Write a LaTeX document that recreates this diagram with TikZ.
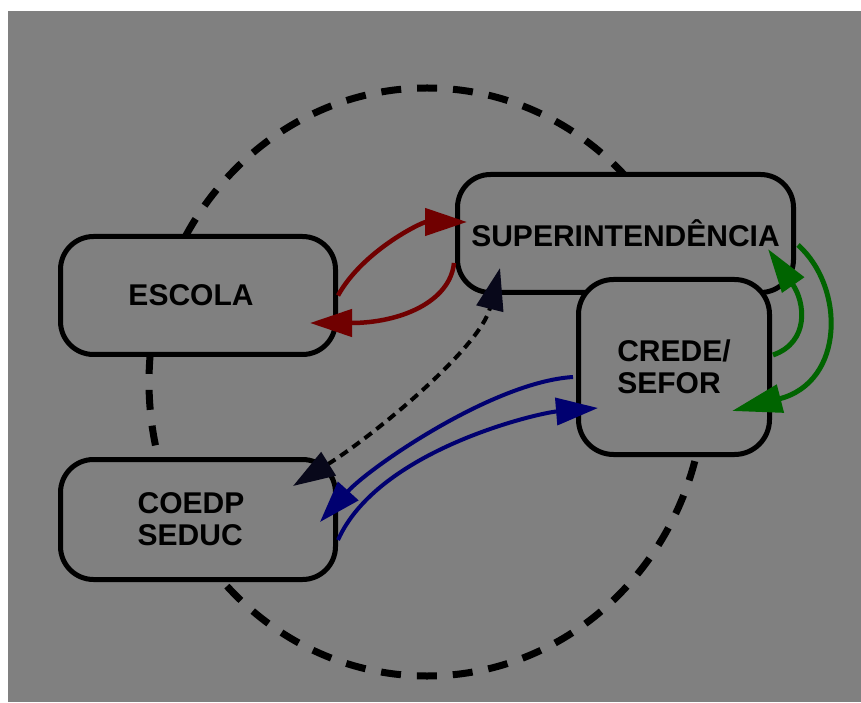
\documentclass[tikz,border=0pt]{standalone}
\usepackage{fontspec}
\setmainfont{Liberation Sans}
\usetikzlibrary{arrows.meta,calc}
\definecolor{bg}{RGB}{128,128,128}
\definecolor{dred}{RGB}{112,0,0}
\definecolor{dblue}{RGB}{0,0,112}
\definecolor{dgreen}{RGB}{0,100,0}
\definecolor{dnavy}{RGB}{8,8,26}
\begin{document}
\begin{tikzpicture}[x=1pt,y=1pt,
  box/.style={draw=black, line width=5pt, fill=bg, rounded corners=33pt,
    font=\fontsize{30}{32}\selectfont\bfseries, align=left, inner sep=0pt},
  tipA/.style={-{Triangle[length=42pt,width=27pt]}},
  redarrow/.style={tipA, draw=dred, line width=4.5pt},
  bluearrow/.style={tipA, draw=dblue, line width=4pt},
  greenarrow/.style={draw=dgreen, line width=5pt},
  dasharrow/.style={{Triangle[length=42pt,width=27pt,color=dnavy]}-{Triangle[length=42pt,width=27pt,color=dnavy]},
    draw=black, line width=4pt, dash pattern=on 9pt off 6pt},
  ring/.style={draw=black, line width=7pt, dash pattern=on 20pt off 15.95pt, dash phase=28.05pt}
]
\useasboundingbox (0,0) rectangle (861,702);
\fill[white] (0,0) rectangle (861,702);
\fill[bg] (8,0) rectangle (861,691);

\coordinate (ec) at (427,320);
\draw[ring] (ec) ellipse [x radius=278pt, y radius=294pt];

\node[box, minimum width=275pt, minimum height=118pt] (escola) at (198,406.5) {\hspace*{-14pt}ESCOLA};
\node[box, minimum width=275pt, minimum height=120pt] (coedp) at (198,182.5) {\hspace*{-14pt}COEDP\\\hspace*{-14pt}SEDUC};
\node[box, minimum width=336pt, minimum height=118pt] (super) at (625.5,468.5) {SUPERINTENDÊNCIA};
\node[box, minimum width=191pt, minimum height=175pt, rounded corners=35pt] (crede) at (674,335) {CREDE/\\SEFOR};

% red arrows
\draw[redarrow] (escola.east) .. controls +(25,45) and +(-45,0) .. ($(super.west)+(12,11.5)$);
\draw[redarrow] ($(super.west)+(-1,-29.5)$) .. controls +(-4,-39) and +(90,0) .. ($(escola.east)+(-28,-27.5)$);

% dashed double arrow
\draw[dasharrow] ($(coedp.north east)+(-45,-29)$) .. controls +(80,50) and +(-20,-80) .. ($(super.south west)+(45,27)$);

% blue arrows
\draw[bluearrow] ($(crede.west)+(-3,-10)$) .. controls +(-80,-5) and +(50,55) .. ($(coedp.east)+(-18,-2.5)$);
\draw[bluearrow] ($(coedp.east)+(0,-20.5)$) .. controls +(40,90) and +(-60,-5) .. ($(crede.west)+(22,-41)$);

% green arrows
\draw[greenarrow, -{Triangle[length=44pt,width=26pt]}] ($(crede.east)+(1,12)$) .. controls +(37,13) and +(37,-53) .. ($(super.east)+(-28,-15.5)$);
\draw[greenarrow, -{Triangle[length=50pt,width=28pt]}] ($(super.east)+(2,-11.5)$) .. controls +(47,-42) and +(113,29) .. ($(crede.east)+(-40,-44)$);
\end{tikzpicture}
\end{document}
